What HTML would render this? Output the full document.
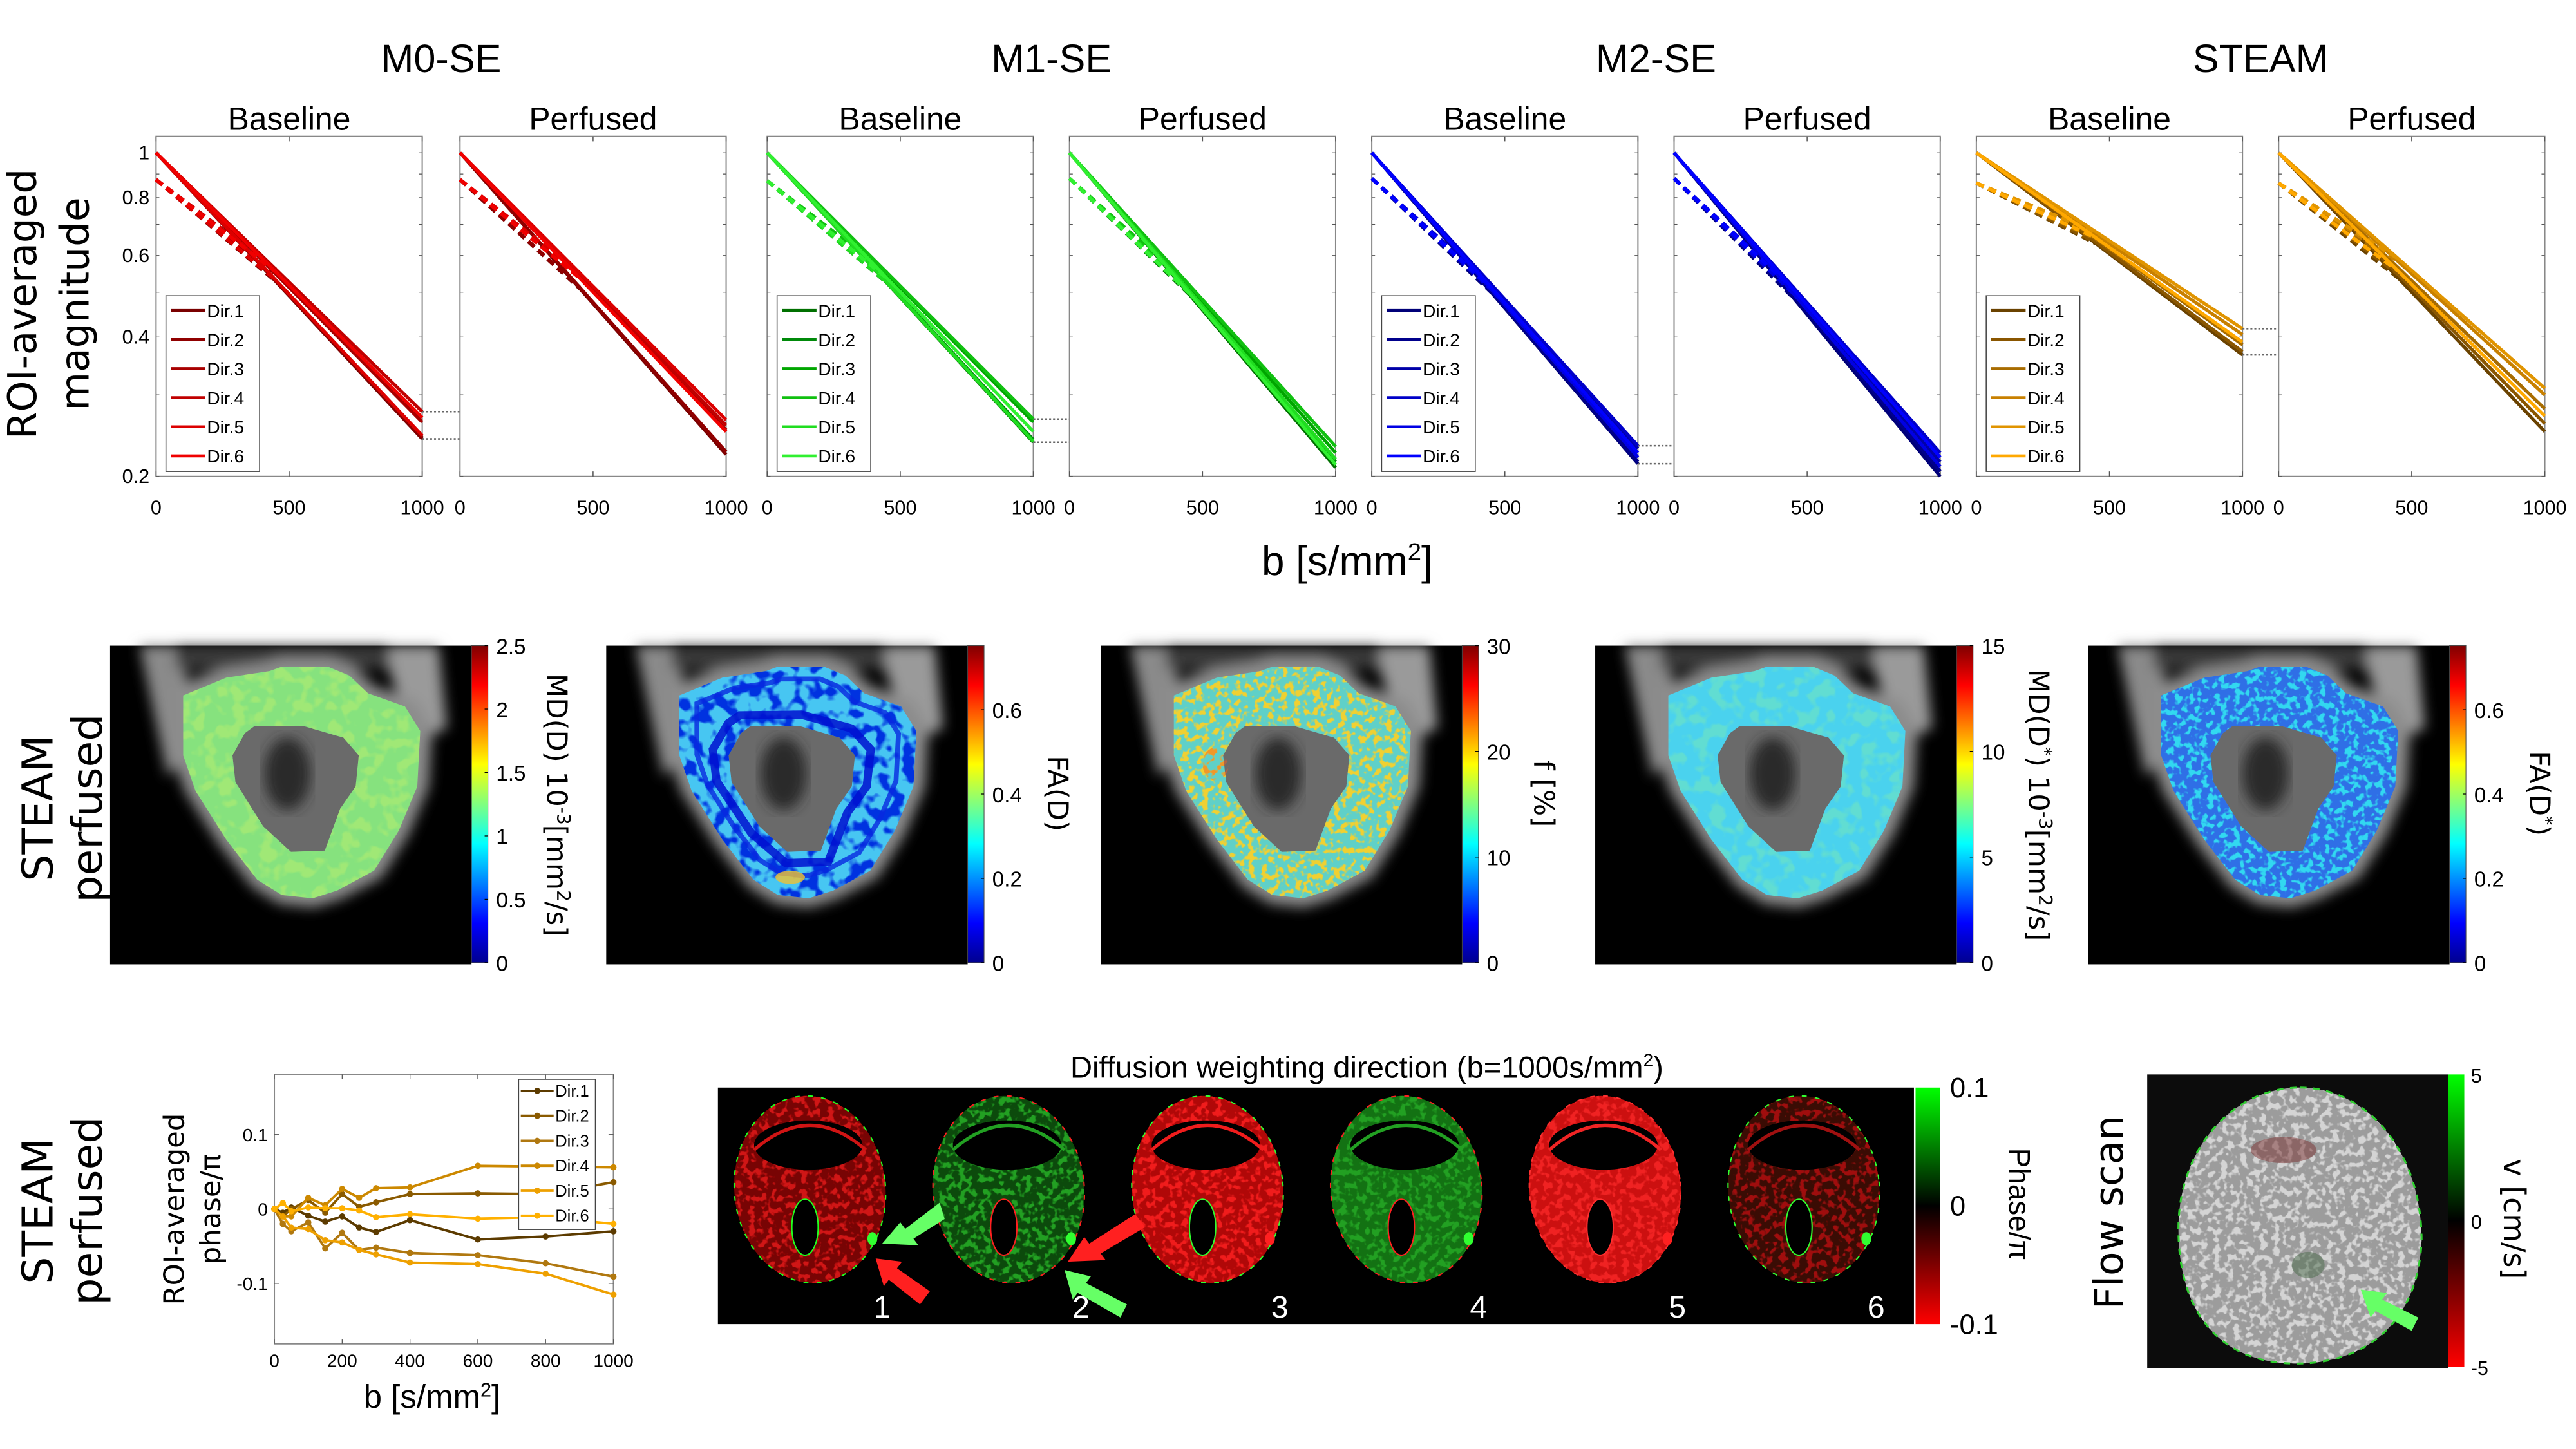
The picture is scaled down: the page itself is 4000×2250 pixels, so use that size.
<!DOCTYPE html>
<html><head><meta charset="utf-8"><style>
html,body{margin:0;padding:0;background:#fff;}
svg{display:block;}
.t{font-family:"Liberation Sans Narrow","Liberation Sans",sans-serif;fill:#000;}
.g{font-family:"DejaVu Sans","Liberation Sans",sans-serif;fill:#000;}
</style></head><body>
<svg id="fig" xmlns="http://www.w3.org/2000/svg" width="4000" height="2250" viewBox="0 0 1568 882">
<defs>
<linearGradient id="jet" x1="0" y1="1" x2="0" y2="0">
<stop offset="0" stop-color="#00008f"/><stop offset="0.125" stop-color="#0000ff"/><stop offset="0.375" stop-color="#00ffff"/><stop offset="0.625" stop-color="#ffff00"/><stop offset="0.875" stop-color="#ff0000"/><stop offset="1" stop-color="#800000"/>
</linearGradient>
<linearGradient id="gr" x1="0" y1="0" x2="0" y2="1">
<stop offset="0" stop-color="#00ff00"/><stop offset="0.5" stop-color="#000000"/><stop offset="1" stop-color="#ff0000"/>
</linearGradient>
<filter id="blot" x="0" y="0" width="1" height="1"><feTurbulence type="fractalNoise" baseFrequency="0.12" numOctaves="2" seed="3" result="n"/><feColorMatrix in="n" type="matrix" values="0 0 0 0 0  0 0 0 0 0  0 0 0 0 0  0 0 0 7 -3.4" result="a"/><feComposite in="SourceGraphic" in2="a" operator="in"/></filter>
<filter id="blot2" x="0" y="0" width="1" height="1"><feTurbulence type="fractalNoise" baseFrequency="0.25" numOctaves="2" seed="7" result="n"/><feColorMatrix in="n" type="matrix" values="0 0 0 0 0  0 0 0 0 0  0 0 0 0 0  0 0 0 8 -4" result="a"/><feComposite in="SourceGraphic" in2="a" operator="in"/></filter>
<filter id="blur"><feGaussianBlur stdDeviation="4"/></filter>
</defs>
</svg>
<script>
// ---------- data ----------
const groupTitles = ['M0-SE','M1-SE','M2-SE','STEAM'];
const dirLabels = ['Dir.1','Dir.2','Dir.3','Dir.4','Dir.5','Dir.6'];
const m0Base = [0.241,0.243,0.262,0.276,0.245,0.268];
const m0Perf = [0.223,0.226,0.252,0.258,0.265,0.250];
const m1Base = [0.237,0.240,0.262,0.266,0.238,0.250];
const m1Perf = [0.209,0.215,0.225,0.232,0.218,0.212];
const m2Base = [0.213,0.215,0.230,0.233,0.220,0.225];
const m2Perf = [0.200,0.205,0.215,0.225,0.210,0.220];
const stBase = [0.366,0.372,0.385,0.405,0.417,0.390];
const stPerf = [0.250,0.260,0.280,0.300,0.310,0.270];
const perfFrac = [0.125,0.125,0.13,0.12,0.12,0.12,0.14,0.14];
const magTicks = [0.2,0.4,0.6,0.8,1];
const bTicks = [0,500,1000];
const phaseB = [0,25,50,100,150,200,250,300,400,600,800,1000];
const phDir1 = [0,-0.005,0.002,-0.009,-0.017,-0.010,-0.025,-0.031,-0.015,-0.041,-0.037,-0.030];
const phDir2 = [0,-0.010,0.000,0.012,-0.005,0.020,0.003,0.009,0.020,0.021,0.020,0.036];
const phDir3 = [0,-0.020,-0.030,-0.018,-0.053,-0.032,-0.055,-0.052,-0.059,-0.062,-0.073,-0.091];
const phDir4 = [0,-0.010,-0.010,0.015,0.005,0.027,0.015,0.028,0.029,0.058,0.057,0.056];
const phDir5 = [0,-0.010,-0.025,-0.027,-0.042,-0.045,-0.055,-0.061,-0.072,-0.074,-0.087,-0.115];
const phDir6 = [0,0.008,-0.003,0.002,0.001,0.001,-0.002,-0.011,-0.007,-0.013,-0.011,-0.020];
const phaseYTicks = [-0.1,0,0.1];
const phaseXTicks = [0,200,400,600,800,1000];
const mdTicks = [0,0.5,1,1.5,2,2.5];
const faTicks = [0,0.2,0.4,0.6];
const fTicks = [0,10,20,30];
const mdStarTicks = [0,5,10,15];
const faStarTicks = [0,0.2,0.4,0.6];
const cbarMax = [2.5,0.752,30,15,0.752];
const phaseBarTicks = [-0.1,0,0.1];
const flowTicks = [-5,0,5];

// ---------- helpers ----------
const NS='http://www.w3.org/2000/svg';
const svg=document.getElementById('fig');
function mk(tag,at,par){const e=document.createElementNS(NS,tag);for(const k in at)e.setAttribute(k,at[k]);(par||svg).appendChild(e);return e;}
function txt(s,at,par){const e=mk('text',at,par);e.textContent=s;return e;}

const palettes=[
 ['#7a0000','#900000','#a80000','#c00000','#dc0000','#f00000'],
 ['#007000','#008a0a','#00a600','#10c010','#20dd20','#30f030'],
 ['#000078','#00008c','#0000a8','#0000c8','#0000e4','#0000ff'],
 ['#6a4200','#8a5600','#a86c00','#c88000','#e09400','#ffa800']];
const stPal=['#5c3b00','#8a5a00','#b07810','#cc8800','#eea000','#ffb000'];

// ---------- top row ----------
const panelLeft=[95,280,467,651,835,1019,1203,1387];
const PW=162, yTop=83, yBot=290;
const panelData=[m0Base,m0Perf,m1Base,m1Perf,m2Base,m2Perf,stBase,stPerf];
function ly(v){return 93+122.4*Math.log(1/v);}
function lx(p,b){return panelLeft[p]+b/1000*PW;}
for(let g=0;g<4;g++){
  const t=txt(groupTitles[g],{x:(panelLeft[2*g]+panelLeft[2*g+1]+PW)/2,y:44,'font-size':24,'text-anchor':'middle',class:'t'});
  
  
}
for(let p=0;p<8;p++){
  const gp=mk('g',{});
  
  
  const st=txt(p%2?'Perfused':'Baseline',{x:panelLeft[p]+PW/2,y:79,'font-size':19.5,'text-anchor':'middle',class:'t'},gp);
  
  
  const box=mk('rect',{x:panelLeft[p],y:yTop,width:PW,height:yBot-yTop,fill:'#fff',stroke:'#888','stroke-width':0.8},gp);
  
  
  for(const b of bTicks){
    const tl=txt(String(b),{x:lx(p,b),y:313,'font-size':12,'text-anchor':'middle',class:'t'},gp);
    
    
    mk('line',{x1:lx(p,b),x2:lx(p,b),y1:yTop,y2:yTop+3,stroke:'#555','stroke-width':0.6},gp);
    mk('line',{x1:lx(p,b),x2:lx(p,b),y1:yBot,y2:yBot-3,stroke:'#555','stroke-width':0.6},gp);
  }
  for(let v=0.2;v<=1.001;v+=0.1){
    mk('line',{x1:panelLeft[p],x2:panelLeft[p]+2,y1:ly(v),y2:ly(v),stroke:'#555','stroke-width':0.5},gp);
    mk('line',{x1:panelLeft[p]+PW,x2:panelLeft[p]+PW-2,y1:ly(v),y2:ly(v),stroke:'#555','stroke-width':0.5},gp);
  }
  const pal=palettes[Math.floor(p/2)];
  const f=perfFrac[p];
  const ends=panelData[p];
  for(let d=0;d<6;d++){
    const D=-Math.log(ends[d])/1000;
    const sv=(b)=>Math.exp(-b*D);
    const ps='M'+lx(p,0)+' '+ly(1).toFixed(2)+'L'+lx(p,1000)+' '+ly(ends[d]).toFixed(2);
    const l1=mk('path',{d:ps,fill:'none',stroke:pal[d],'stroke-width':2},gp);
    
    
    const pd='M'+lx(p,0)+' '+ly(1-f).toFixed(2)+'L'+lx(p,450).toFixed(2)+' '+ly(sv(450)).toFixed(2);
    const l2=mk('path',{d:pd,fill:'none',stroke:pal[d],'stroke-width':2.2,'stroke-dasharray':'5 3'},gp);
    
    
  }
  if(p%2===0){
    const lg=mk('g',{},gp);
    
    
    mk('rect',{x:panelLeft[p]+6,y:180,width:57,height:107,fill:'#fff',stroke:'#444','stroke-width':0.6},lg);
    for(let d=0;d<6;d++){
      const yy=189+17.7*d;
      mk('line',{x1:panelLeft[p]+9,x2:panelLeft[p]+30,y1:yy,y2:yy,stroke:pal[d],'stroke-width':1.8},lg);
      const le=txt(dirLabels[d],{x:panelLeft[p]+31,y:yy+4,'font-size':11,class:'t'},lg);
      
      
    }
    const hi=Math.max(...ends), lo=Math.min(...ends);
    for(const v of [hi,lo]){
      const dl=mk('line',{x1:panelLeft[p]+PW,x2:panelLeft[p+1]+PW,y1:ly(v),y2:ly(v),stroke:'#666','stroke-width':1,'stroke-dasharray':'1.2 1.2'});
      
      
    }
  }
}
for(const v of magTicks){
  const tl=txt(String(v),{x:91,y:ly(v)+4,'font-size':12,'text-anchor':'end',class:'t'});
  
  
}
{
 const yl=mk('text',{transform:'translate(22,185) rotate(-90)','font-size':24,'text-anchor':'middle',class:'g'});
 
 
 const a=mk('tspan',{x:0,y:0},yl);a.textContent='ROI-averaged';
 const b=mk('tspan',{x:0,y:32},yl);b.textContent='magnitude';
 const xl=mk('text',{x:820,y:350,'font-size':25,'text-anchor':'middle',class:'t'});
 
 
 xl.innerHTML='b [s/mm<tspan dy="-9" font-size="15">2</tspan><tspan dy="9">]</tspan>';
}

// ---------- middle row maps ----------
const outerPts=[[104.5,12.8],[132.6,12.8],[145.7,18.2],[157,29],[179.5,37],[188.8,51.9],[187,85.7],[175.7,112.7],[160.7,137],[138.2,149.1],[123.2,153.8],[104.5,151.8],[89.5,142.4],[70.7,118],[52,88.4],[44.5,66.8],[44.5,30.3],[70.7,19.5],[97,15.5]];
const innerPts=[[87.6,49.2],[117.6,48.9],[142,56],[151.4,66.8],[149.5,85.7],[140.1,99.2],[130.7,124.8],[110.1,125.5],[93.2,110],[76.3,83],[74.5,66.8],[82,53.3]];
function poly(pts,ox,oy){return 'M'+pts.map(q=>(q[0]+ox).toFixed(1)+' '+(q[1]+oy).toFixed(1)).join('L')+'Z';}
const mapLeft=[67,369,670,971,1271];
const mapBase=['#86e27e','#47c6f2','#5fd0c8','#4ad2ee','#2f6fe6'];
const mapOver=['#b0ec70','#0030e0','#f0d030','#70e4c0','#30d8f0'];
const mapTickSets=[mdTicks,faTicks,fTicks,mdStarTicks,faStarTicks];
const mapNames=['md-d-map','fa-d-map','f-map','md-dstar-map','fa-dstar-map'];
const MT=393, MH=194, MW=220;
for(let m=0;m<5;m++){
  const ox=mapLeft[m], oy=MT;
  const gm=mk('g',{});
  
  
  mk('rect',{x:ox,y:oy,width:MW,height:MH,fill:'#000'},gm);
  const bg=mk('g',{filter:'url(#blur)'},gm);
  mk('path',{d:'M'+(ox+18)+' '+oy+'L'+(ox+45)+' '+oy+'L'+(ox+50)+' '+(oy+60)+'L'+(ox+35)+' '+(oy+80)+'Z',fill:'#8a8a8a'},bg);
  mk('path',{d:'M'+(ox+165)+' '+oy+'L'+(ox+200)+' '+oy+'L'+(ox+205)+' '+(oy+50)+'L'+(ox+185)+' '+(oy+60)+'Z',fill:'#9a9a9a'},bg);
  mk('rect',{x:ox+40,y:oy,width:130,height:14,fill:'#3a3a3a'},bg);
  mk('path',{d:poly(outerPts.map(q=>[ (q[0]-116)*1.1+116,(q[1]-83)*1.08+83]),ox,oy),fill:'#8c8c8c'},bg);
  const ring=poly(outerPts,ox,oy)+poly(innerPts,ox,oy);
  mk('path',{d:poly(innerPts,ox,oy),fill:'#6a6a6a'},gm);
  mk('ellipse',{cx:ox+108,cy:oy+78,rx:14,ry:22,fill:'#2a2a2a',filter:'url(#blur)'},gm);
  mk('path',{d:ring,fill:mapBase[m],'fill-rule':'evenodd'},gm);
  const ov=mk('g',{filter:(m===2||m===4)?'url(#blot2)':'url(#blot)'},gm);
  mk('path',{d:ring,fill:mapOver[m],'fill-rule':'evenodd',opacity:(m===0||m===3)?0.6:1},ov);
  if(m===1){
    mk('path',{d:poly(innerPts.map(q=>[(q[0]-113)*1.25+113,(q[1]-87)*1.18+87]),ox,oy),fill:'none',stroke:'#0010d0','stroke-width':5,opacity:0.85},gm);
    mk('path',{d:poly(outerPts.map(q=>[(q[0]-116)*0.85+116,(q[1]-83)*0.85+80]),ox,oy),fill:'none',stroke:'#0828e0','stroke-width':3,opacity:0.8},gm);
    mk('ellipse',{cx:ox+112,cy:oy+141,rx:9,ry:4,fill:'#f0c030',opacity:0.8},gm);
  }
  if(m===2){mk('ellipse',{cx:ox+70,cy:oy+72,rx:8,ry:10,fill:'#f06020',opacity:0.5,filter:'url(#blot2)'},gm);}
  const cb=mk('rect',{x:ox+MW,y:oy,width:10,height:MH-1,fill:'url(#jet)',stroke:'#444','stroke-width':0.4},gm);
  
  
  for(const v of mapTickSets[m]){
    const yy=oy+MH-1-v/cbarMax[m]*(MH-1);
    mk('line',{x1:ox+MW+8,x2:ox+MW+10,y1:yy,y2:yy,stroke:'#000','stroke-width':0.5},gm);
    const tl=txt(String(v),{x:ox+MW+15,y:yy+5,'font-size':13,class:'t'},gm);
    
    
  }
}
function vlabel(html,x,y,name){
  const e=mk('text',{transform:'translate('+x+','+y+') rotate(90)','font-size':17,'text-anchor':'middle',class:'g'});
  
  
  e.innerHTML=html;
}
vlabel('MD(D) 10<tspan dy="-6" font-size="11">-3</tspan><tspan dy="6">[mm</tspan><tspan dy="-6" font-size="11">2</tspan><tspan dy="6">/s]</tspan>',333,490,'colorbar-title-md-d');
vlabel('FA(D)',638,483,'colorbar-title-fa-d');
vlabel('f [%]',934,483,'colorbar-title-f');
vlabel('MD(D<tspan dy="-6" font-size="11">*</tspan><tspan dy="6">) 10</tspan><tspan dy="-6" font-size="11">-3</tspan><tspan dy="6">[mm</tspan><tspan dy="-6" font-size="11">2</tspan><tspan dy="6">/s]</tspan>',1235,490,'colorbar-title-md-dstar');
vlabel('FA(D<tspan dy="-6" font-size="11">*</tspan><tspan dy="6">)</tspan>',1540,483,'colorbar-title-fa-dstar');
function rowLabel(y,name){
  const e=mk('text',{transform:'translate(32,'+y+') rotate(-90)','font-size':26,'text-anchor':'middle',class:'g'});
  
  
  const a=mk('tspan',{x:0,y:0},e);a.textContent='STEAM';
  const b=mk('tspan',{x:0,y:30},e);b.textContent='perfused';
}
rowLabel(492,'row-label-maps');
rowLabel(737,'row-label-phase');

// ---------- phase plot ----------
const PX0=167,PX1=373.4,PY0=654,PY1=818;
function px(b){return PX0+b/1000*(PX1-PX0);}
function py(v){return 735.9-v/0.1*45.3;}
{
 const gph=mk('g',{});
 
 
 mk('rect',{x:PX0,y:PY0,width:PX1-PX0,height:PY1-PY0,fill:'#fff',stroke:'#888','stroke-width':0.8},gph);
 for(const v of phaseYTicks){
   mk('line',{x1:PX0,x2:PX0+3,y1:py(v),y2:py(v),stroke:'#555','stroke-width':0.5},gph);
   mk('line',{x1:PX1,x2:PX1-3,y1:py(v),y2:py(v),stroke:'#555','stroke-width':0.5},gph);
   const tl=txt(v===0?'0':v.toFixed(1),{x:PX0-4,y:py(v)+4,'font-size':11,'text-anchor':'end',class:'t'},gph);
   
   
 }
 for(const b of phaseXTicks){
   mk('line',{x1:px(b),x2:px(b),y1:PY0,y2:PY0+3,stroke:'#555','stroke-width':0.5},gph);
   mk('line',{x1:px(b),x2:px(b),y1:PY1,y2:PY1-3,stroke:'#555','stroke-width':0.5},gph);
   const tl=txt(String(b),{x:px(b),y:832,'font-size':11,'text-anchor':'middle',class:'t'},gph);
   
   
 }
 const series=[phDir1,phDir2,phDir3,phDir4,phDir5,phDir6];
 for(let d=0;d<6;d++){
   const sg=mk('g',{},gph);
   
   
   const dstr=phaseB.map((b,i)=>(i?'L':'M')+px(b).toFixed(2)+' '+py(series[d][i]).toFixed(2)).join('');
   mk('path',{d:dstr,fill:'none',stroke:stPal[d],'stroke-width':1.5},sg);
   phaseB.forEach((b,i)=>{
     const c=mk('circle',{cx:px(b),cy:py(series[d][i]),r:1.9,fill:stPal[d]},sg);
     
     
   });
 }
 const lg=mk('g',{},gph);
 
 
 mk('rect',{x:315.7,y:657,width:46.7,height:91.4,fill:'#fff',stroke:'#444','stroke-width':0.6},lg);
 for(let d=0;d<6;d++){
   const yy=664+15.2*d;
   mk('line',{x1:317,x2:337,y1:yy,y2:yy,stroke:stPal[d],'stroke-width':1.5},lg);
   mk('circle',{cx:327,cy:yy,r:1.9,fill:stPal[d]},lg);
   const le=txt(dirLabels[d],{x:338,y:yy+3.5,'font-size':10,class:'t'},lg);
   
   
 }
 const yl=mk('text',{transform:'translate(112,736) rotate(-90)','font-size':17,'text-anchor':'middle',class:'g'},gph);
 
 
 const a=mk('tspan',{x:0,y:0},yl);a.textContent='ROI-averaged';
 const b2=mk('tspan',{x:0,y:22},yl);b2.textContent='phase/π';
 const xl=mk('text',{x:263,y:857,'font-size':20,'text-anchor':'middle',class:'t'},gph);
 
 
 xl.innerHTML='b [s/mm<tspan dy="-7" font-size="12">2</tspan><tspan dy="7">]</tspan>';
}

// ---------- phase maps ----------
{
 const gpm=mk('g',{});
 
 
 const tt=mk('text',{x:832,y:656,'font-size':18.5,'text-anchor':'middle',class:'t'},gpm);
 
 
 tt.innerHTML='Diffusion weighting direction (b=1000s/mm<tspan dy="-7" font-size="11">2</tspan><tspan dy="7">)</tspan>';
 mk('rect',{x:437,y:662,width:728,height:144,fill:'#000'},gpm);
 const base=['#780404','#0c4a0c','#b00808','#137213','#cc1010','#3a0c04'];
 const over=['#d01414','#22a022','#f01c1c','#22a022','#f02424','#a01010'];
 const edge=['#20ff20','#ff2020','#30ff30','#ff2020','#ff3030','#30ff30'];
 for(let i=0;i<6;i++){
   const cx=493+121*i;
   const hg=mk('g',{},gpm);
   
   
   mk('ellipse',{cx:cx,cy:724,rx:46,ry:57,fill:base[i],transform:'rotate(-6 '+cx+' 724)'},hg);
   const o=mk('g',{filter:'url(#blot2)'},hg);
   mk('ellipse',{cx:cx,cy:724,rx:46,ry:57,fill:over[i],transform:'rotate(-6 '+cx+' 724)'},o);
   mk('ellipse',{cx:cx,cy:724,rx:46,ry:57,fill:'none',stroke:edge[i],'stroke-width':0.8,'stroke-dasharray':'3 5',transform:'rotate(-6 '+cx+' 724)'},hg);
   mk('ellipse',{cx:cx-1,cy:697,rx:33,ry:15,fill:'#000'},hg);
   mk('path',{d:'M'+(cx-34)+' 700 Q'+cx+' 670 '+(cx+34)+' 700',fill:'none',stroke:over[i],'stroke-width':2},hg);
   mk('ellipse',{cx:cx-3,cy:747,rx:8,ry:17,fill:'#000',stroke:edge[i],'stroke-width':0.8},hg);
   mk('ellipse',{cx:cx+38,cy:754,rx:3,ry:4,fill:(i===0||i===1||i===3||i===5)?'#30ff30':'#ff2020'},hg);
   const n=txt(String(i+1),{x:cx+44,y:802,'font-size':19,'text-anchor':'middle',class:'t'},hg);
   n.setAttribute('style','fill:#fff');
   
   
 }
 const arrows=[
  ['M537 757 L548 744 L551 748 L572 732 L575 742 L556 754 L559 758 Z','#66ff66'],
  ['M533 766 L549 768 L546 772 L566 786 L560 794 L541 779 L538 783 Z','#ff2020'],
  ['M650 768 L660 753 L663 757 L691 739 L697 747 L670 763 L673 767 Z','#ff2020'],
  ['M648 773 L664 777 L661 781 L686 794 L682 802 L656 787 L653 791 Z','#66ff66']];
 arrows.forEach(a=>{const e=mk('path',{d:a[0],fill:a[1]},gpm);
   
   });
 const cb=mk('rect',{x:1166,y:662,width:15,height:144,fill:'url(#gr)'},gpm);
 
 
 for(const v of phaseBarTicks){
   const yy=734-v/0.1*72;
   const tl=txt(v===0?'0':v.toFixed(1),{x:1187,y:yy+6,'font-size':17,class:'t'},gpm);
   
   
 }
 const pl=mk('text',{transform:'translate(1223,733) rotate(90)','font-size':18,'text-anchor':'middle',class:'t'},gpm);
 pl.textContent='Phase/π';
 
 
}

// ---------- flow scan ----------
{
 const gf=mk('g',{});
 
 
 const fl=mk('text',{transform:'translate(1292,738) rotate(-90)','font-size':24,'text-anchor':'middle',class:'g'},gf);
 fl.textContent='Flow scan';
 
 
 mk('rect',{x:1307,y:654,width:183,height:179,fill:'#0c0c0c'},gf);
 const egg='M1400 662 C1440 662 1474 700 1474 755 C1472 805 1440 830 1398 830 C1352 830 1326 800 1326 748 C1326 698 1360 662 1400 662 Z';
 mk('path',{d:egg,fill:'#9c9c9c'},gf);
 const o=mk('g',{filter:'url(#blot2)'},gf);
 mk('path',{d:egg,fill:'#d4d4d4'},o);
 mk('path',{d:egg,fill:'none',stroke:'#30d030','stroke-width':1.2,'stroke-dasharray':'4 4'},gf);
 mk('ellipse',{cx:1390,cy:700,rx:20,ry:8,fill:'#7a3030',opacity:0.5},gf);
 mk('ellipse',{cx:1405,cy:770,rx:10,ry:8,fill:'#4a6a4a',opacity:0.5},gf);
 const ar=mk('path',{d:'M1437 785 L1453 787 L1450 791 L1472 802 L1468 810 L1446 798 L1443 802 Z',fill:'#66ff66'},gf);
 
 
 const cb=mk('rect',{x:1490,y:654,width:10,height:178,fill:'url(#gr)'},gf);
 
 
 for(const v of flowTicks){
   const yy=743-v/5*89;
   const tl=txt(String(v),{x:1504,y:yy+5,'font-size':12,class:'t'},gf);
   
   
 }
 const vl=mk('text',{transform:'translate(1524,742) rotate(90)','font-size':18,'text-anchor':'middle',class:'g'},gf);
 vl.textContent='v [cm/s]';
 
 
}
</script>
</body></html>
